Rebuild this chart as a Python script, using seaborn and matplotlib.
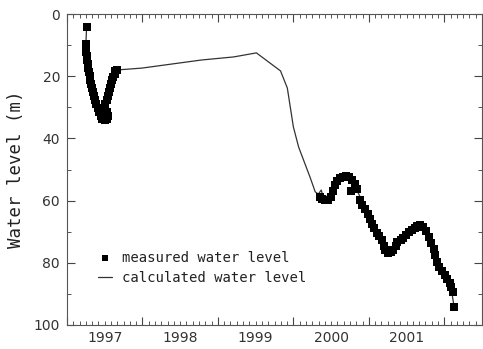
import numpy as np
import pandas as pd
import matplotlib
matplotlib.use("Agg")
import matplotlib.pyplot as plt
import seaborn as sns

# measured water level (decimal year, depth in m)
meas_year = [1996.76,
             1996.75, 1996.75, 1996.75, 1996.76, 1996.76, 1996.78, 1996.78, 1996.79, 1996.80, 1996.80,
             1996.82, 1996.83, 1996.84, 1996.86, 1996.87, 1996.89, 1996.91, 1996.93, 1996.95, 1996.97,
             1997.00, 1997.03, 1997.04, 1997.03, 1997.01, 1997.01, 1997.03, 1997.04, 1997.05, 1997.07,
             1997.08, 1997.09, 1997.11, 1997.13, 1997.14, 1997.16,
             1999.855, 1999.88, 1999.92, 1999.96, 2000.00, 2000.03, 2000.05, 2000.08, 2000.12, 2000.16,
             2000.20, 2000.24, 2000.26, 2000.28, 2000.32, 2000.34, 2000.38, 2000.41, 2000.45, 2000.49,
             2000.51, 2000.54, 2000.57, 2000.61, 2000.63, 2000.67, 2000.70, 2000.72, 2000.75, 2000.79,
             2000.82, 2000.86, 2000.88, 2000.92, 2000.95, 2000.99, 2001.03, 2001.07, 2001.11, 2001.14,
             2001.18, 2001.22, 2001.26, 2001.30, 2001.33, 2001.36, 2001.38, 2001.41, 2001.43, 2001.47,
             2001.51, 2001.54, 2001.57, 2001.59, 2001.61, 2001.63]
meas_level = [4.2,
              9.6, 10.9, 12.2, 13.5, 14.8, 16.1, 17.4, 18.6, 19.9, 21.2,
              22.5, 23.8, 25.1, 26.4, 27.7, 28.9, 30.2, 31.5, 32.8, 33.8,
              34.1, 33.8, 32.8, 31.5, 30.2, 28.9, 27.7, 26.4, 25.1, 23.8,
              22.5, 21.2, 20.3, 19.3, 18.3, 18.0,
              58.8, 59.5, 59.8, 59.8, 58.8, 56.9, 55.0, 53.7, 52.7, 52.4,
              52.1, 52.4, 56.9, 53.4, 54.7, 56.3, 59.8, 61.4, 62.7, 64.3,
              65.9, 67.5, 68.8, 70.4, 71.4, 72.7, 74.6, 75.9, 76.8, 76.5,
              75.9, 74.6, 73.3, 72.7, 72.0, 71.1, 70.1, 69.5, 68.8, 68.2,
              67.8, 68.5, 69.8, 71.7, 73.6, 75.6, 77.5, 79.7, 81.4, 82.6,
              83.9, 85.2, 86.5, 87.8, 89.4, 94.2]

# calculated water level
calc_year = [1996.76, 1996.75, 1996.80, 1996.89, 1997.00, 1997.04, 1997.01, 1997.07, 1997.16,
             1997.49, 1998.28, 1998.71, 1999.01, 1999.33, 1999.42, 1999.50, 1999.57, 1999.62,
             1999.72, 1999.79, 1999.83, 1999.87, 1999.89, 2000.00, 2000.16, 2000.28, 2000.49,
             2000.75, 2000.95, 2001.18, 2001.33, 2001.47, 2001.59, 2001.63]
calc_level = [4.2, 9.6, 21.2, 28.9, 34.1, 32.8, 28.9, 23.8, 18.0,
              17.4, 14.8, 13.8, 12.5, 18.3, 23.8, 36.3, 42.8, 46.0,
              52.4, 57.2, 57.9, 56.6, 58.5, 58.8, 52.4, 53.4, 64.3,
              76.8, 72.0, 67.8, 73.6, 82.6, 87.8, 94.2]

year_labels = [1997, 1998, 1999, 2000, 2001]
level_ticks = [0, 20, 40, 60, 80, 100]

sns.set_theme(style="white")
plt.rcParams['font.family'] = ['DejaVu Sans']

fig = plt.figure(figsize=(4.83, 3.49), dpi=100)
ax = fig.add_axes([67 / 483, 24 / 349, (482 - 67) / 483, (335 - 24) / 349])

meas = pd.DataFrame({"year": meas_year, "level": meas_level})
calc = pd.DataFrame({"year": calc_year, "level": calc_level})

sns.lineplot(data=calc, x="year", y="level", sort=False, estimator=None,
             color="#333333", linewidth=0.9, ax=ax, label="calculated water level", zorder=2)
sns.scatterplot(data=meas, x="year", y="level", marker="s", s=27, color="black",
                linewidth=0, ax=ax, label="measured water level", zorder=3)

ax.set_xlim(1996.53, 2002.0)
ax.set_ylim(100, 0)

# x ticks: long ticks at half years, monthly minor ticks, labels at years
half_years = [y - 0.5 for y in year_labels] + [year_labels[-1] + 0.5]
months = [1996.5 + k / 12 for k in range(0, 67)]
minor_labels = []
for m in months:
    r = round(m, 4)
    minor_labels.append(str(int(round(m))) if abs(r - round(r)) < 1e-6 and int(round(m)) in year_labels else "")
ax.set_xticks(half_years, labels=[""] * len(half_years))
ax.set_xticks(months, labels=minor_labels, minor=True)

ax.set_yticks(level_ticks, labels=[str(v) for v in level_ticks])
ax.set_yticks([10, 30, 50, 70, 90], minor=True)

ax.tick_params(axis="x", which="major", direction="in", length=6, width=0.8,
               top=True, bottom=True, color="#444444")
ax.tick_params(axis="x", which="minor", direction="in", length=3, width=0.7,
               top=True, bottom=True, color="#555555", labelsize=10,
               labelcolor="#333333", pad=4)
ax.tick_params(axis="y", which="major", direction="in", length=6, width=0.8,
               left=True, right=True, color="#444444", labelsize=10,
               labelcolor="#333333", pad=5)
ax.tick_params(axis="y", which="minor", direction="in", length=3, width=0.7,
               left=True, right=True, color="#555555")

for side in ["left", "right", "top", "bottom"]:
    ax.spines[side].set_color("#555555")
    ax.spines[side].set_linewidth(0.8)

ax.set_xlabel("")
ax.set_ylabel("Water level (m)", fontfamily="DejaVu Sans Mono", fontsize=12.5,
              color="#222222", labelpad=6)

handles, labels = ax.get_legend_handles_labels()
order = [labels.index("measured water level"), labels.index("calculated water level")]
leg = ax.legend([handles[i] for i in order], [labels[i] for i in order],
                loc="upper left", bbox_to_anchor=(0.045, 0.278), frameon=False,
                prop={"family": "DejaVu Sans Mono", "size": 10},
                handlelength=1.0, handletextpad=0.7, labelspacing=0.45,
                markerscale=0.7)
for t in leg.get_texts():
    t.set_color("#222222")

fig.savefig("out.png", dpi=100, facecolor="white")
